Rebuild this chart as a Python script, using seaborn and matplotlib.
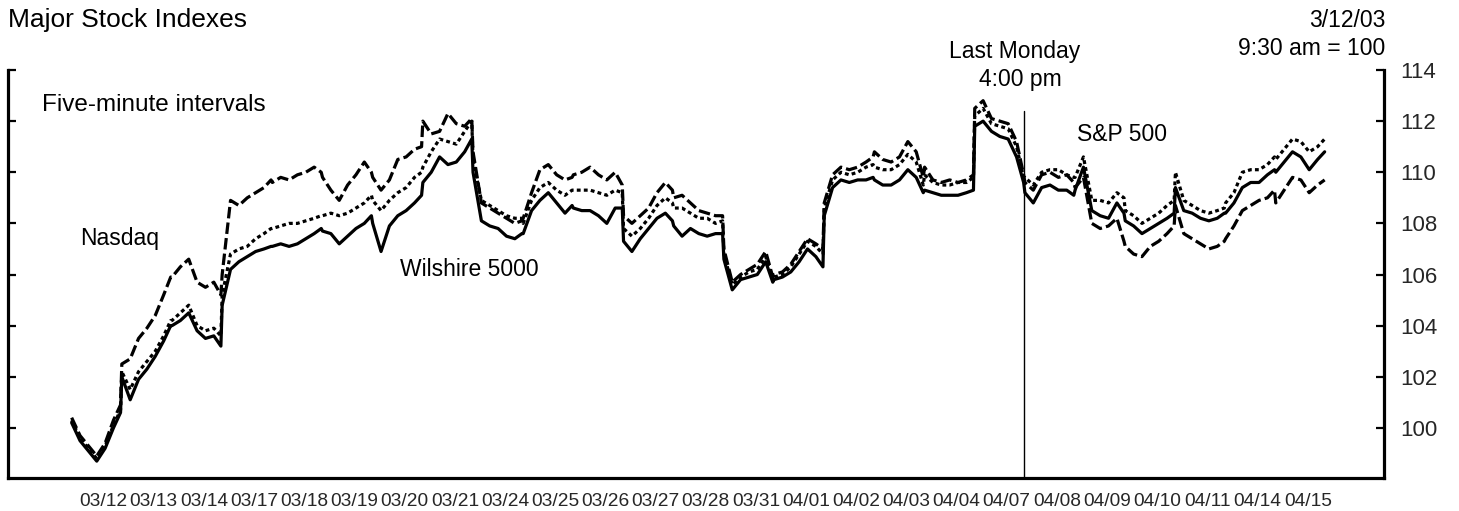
import numpy as np
import pandas as pd
import matplotlib
matplotlib.use("Agg")
import matplotlib.pyplot as plt
import seaborn as sns

# ---------------- data ----------------
day_labels = ["03/12", "03/13", "03/14", "03/17", "03/18", "03/19", "03/20", "03/21",
              "03/24", "03/25", "03/26", "03/27", "03/28", "03/31", "04/01", "04/02",
              "04/03", "04/04", "04/07", "04/08", "04/09", "04/10", "04/11", "04/14", "04/15"]
intraday_times = ["09:35", "10:40", "11:45", "12:50", "13:55", "15:00", "15:55"]

nasdaq = [
    100.4, 99.7, 99.3, 98.9, 99.4, 100.3, 100.9,
    102.5, 102.7, 103.5, 103.9, 104.4, 105.2, 105.9,
    105.9, 106.3, 106.6, 105.7, 105.5, 105.7, 105.2,
    106.0, 108.9, 108.7, 109.0, 109.2, 109.4, 109.7,
    109.6, 109.8, 109.7, 109.9, 110.0, 110.2, 110.0,
    109.8, 109.3, 108.9, 109.5, 109.9, 110.4, 110.0,
    109.8, 109.3, 109.7, 110.5, 110.6, 110.9, 111.0,
    112.0, 111.5, 111.6, 112.3, 111.9, 111.8, 112.1,
    110.8, 108.8, 108.6, 108.4, 108.2, 108.0, 108.1,
    108.2, 109.2, 110.1, 110.3, 109.9, 109.7, 109.8,
    109.9, 110.0, 110.2, 109.9, 109.7, 110.0, 109.5,
    108.3, 108.0, 108.3, 108.6, 109.2, 109.6, 109.3,
    109.0, 109.1, 108.8, 108.5, 108.4, 108.3, 108.3,
    107.0, 105.7, 106.0, 106.2, 106.4, 106.9, 105.9,
    106.0, 106.1, 106.4, 106.9, 107.4, 107.2, 107.0,
    108.8, 109.9, 110.2, 110.1, 110.2, 110.4, 110.6,
    110.8, 110.5, 110.4, 110.6, 111.2, 110.8, 109.8,
    110.2, 109.7, 109.6, 109.7, 109.6, 109.7, 109.9,
    112.5, 112.8, 112.1, 112.0, 111.9, 111.2, 109.9,
    109.6, 109.3, 109.9, 110.0, 109.8, 109.9, 109.6,
    109.4, 109.8, 108.0, 107.8, 107.9, 108.2, 107.3,
    107.1, 106.8, 106.7, 107.1, 107.3, 107.6, 107.9,
    108.7, 107.6, 107.4, 107.2, 107.0, 107.1, 107.3,
    107.4, 107.9, 108.5, 108.7, 108.9, 109.0, 109.3,
    108.8, 109.3, 109.8, 109.7, 109.2, 109.5, 109.7,
]

sp500 = [
    100.3, 99.6, 99.2, 98.8, 99.3, 100.1, 100.7,
    102.2, 101.5, 102.2, 102.6, 103.0, 103.6, 104.2,
    104.2, 104.5, 104.8, 104.0, 103.8, 103.9, 103.6,
    105.2, 106.8, 107.0, 107.1, 107.4, 107.6, 107.8,
    107.8, 107.9, 108.0, 108.0, 108.1, 108.2, 108.3,
    108.3, 108.4, 108.3, 108.4, 108.6, 108.8, 109.1,
    108.9, 108.5, 108.9, 109.2, 109.4, 109.8, 110.0,
    110.2, 110.8, 111.3, 111.2, 111.1, 111.6, 112.0,
    110.5, 108.9, 108.7, 108.5, 108.3, 108.2, 108.2,
    108.0, 108.9, 109.4, 109.6, 109.3, 109.1, 109.3,
    109.3, 109.3, 109.3, 109.2, 109.1, 109.3, 109.2,
    107.8, 107.5, 107.8, 108.2, 108.7, 109.0, 108.8,
    108.6, 108.6, 108.4, 108.2, 108.2, 108.0, 108.1,
    106.8, 105.6, 105.9, 106.1, 106.2, 106.7, 105.8,
    105.9, 106.0, 106.3, 106.8, 107.3, 107.1, 106.8,
    108.6, 109.7, 110.0, 109.9, 110.0, 110.2, 110.3,
    110.2, 110.1, 110.1, 110.3, 110.7, 110.4, 109.5,
    109.9, 109.6, 109.5, 109.5, 109.6, 109.6, 109.8,
    112.2, 112.5, 111.9, 111.8, 111.7, 111.0, 109.8,
    109.8, 109.5, 110.0, 110.1, 110.1, 109.9, 109.8,
    109.8, 110.6, 108.9, 108.9, 108.8, 109.2, 109.0,
    108.5, 108.3, 108.0, 108.2, 108.4, 108.7, 108.9,
    110.0, 108.9, 108.7, 108.5, 108.4, 108.5, 108.6,
    108.8, 109.2, 110.0, 110.1, 110.1, 110.3, 110.6,
    110.5, 110.9, 111.3, 111.2, 110.8, 111.0, 111.3,
]

wilshire = [
    100.2, 99.5, 99.1, 98.7, 99.2, 100.0, 100.6,
    102.0, 101.1, 101.9, 102.3, 102.8, 103.4, 104.0,
    104.0, 104.2, 104.5, 103.8, 103.5, 103.6, 103.2,
    104.8, 106.2, 106.5, 106.7, 106.9, 107.0, 107.1,
    107.1, 107.2, 107.1, 107.2, 107.4, 107.6, 107.8,
    107.7, 107.6, 107.2, 107.5, 107.8, 108.0, 108.3,
    108.0, 106.9, 107.9, 108.3, 108.5, 108.8, 109.1,
    109.6, 110.0, 110.6, 110.3, 110.4, 110.8, 111.3,
    110.0, 108.1, 107.9, 107.8, 107.5, 107.4, 107.6,
    107.6, 108.5, 108.9, 109.2, 108.8, 108.4, 108.7,
    108.6, 108.5, 108.5, 108.3, 108.0, 108.6, 108.6,
    107.3, 106.9, 107.4, 107.8, 108.2, 108.4, 108.1,
    107.9, 107.5, 107.8, 107.6, 107.5, 107.6, 107.6,
    106.6, 105.4, 105.8, 105.9, 106.0, 106.5, 105.7,
    105.8, 105.9, 106.1, 106.5, 107.0, 106.7, 106.3,
    108.3, 109.4, 109.7, 109.6, 109.7, 109.7, 109.8,
    109.7, 109.5, 109.5, 109.7, 110.1, 109.8, 109.2,
    109.3, 109.2, 109.1, 109.1, 109.1, 109.2, 109.3,
    111.8, 112.0, 111.6, 111.4, 111.3, 110.6, 109.6,
    109.2, 108.8, 109.4, 109.5, 109.3, 109.3, 109.1,
    109.3, 110.2, 108.5, 108.3, 108.2, 108.8, 108.4,
    108.1, 107.9, 107.6, 107.8, 108.0, 108.2, 108.4,
    109.4, 108.5, 108.4, 108.2, 108.1, 108.2, 108.4,
    108.4, 108.8, 109.4, 109.6, 109.6, 109.9, 110.1,
    110.0, 110.4, 110.8, 110.6, 110.1, 110.5, 110.8,
]

y_ticks = [100, 102, 104, 106, 108, 110, 112, 114]

# ---------------- build long table ----------------
def session_fraction(hhmm):
    h, m = map(int, hhmm.split(":"))
    return (h * 60 + m - 570) / 390.0

fracs = [session_fraction(t) for t in intraday_times]
t_axis = [d + f for d in range(len(day_labels)) for f in fracs]

rows = []
for name, vals in [("Nasdaq", nasdaq), ("S&P 500", sp500), ("Wilshire 5000", wilshire)]:
    for t, v in zip(t_axis, vals):
        rows.append({"t": t, "value": v, "series": name})
df = pd.DataFrame(rows)

# ---------------- figure ----------------
sns.set_style("white")
plt.rcParams["font.family"] = ["Liberation Sans", "DejaVu Sans"]

W, H = 1459, 511
fig = plt.figure(figsize=(W / 100, H / 100), dpi=100)
ax = fig.add_axes([8 / W, (H - 478) / H, (1384 - 8) / W, (478 - 70) / H])

dash_map = {"Nasdaq": (3.6, 1.3), "S&P 500": (1.2, 1.0), "Wilshire 5000": ""}
sns.lineplot(data=df, x="t", y="value", style="series", dashes=dash_map,
             color="black", linewidth=2.3, legend=False, ax=ax,
             estimator=None, sort=False)

ax.set_xlim(-1.256, 26.17)
ax.set_ylim(98.04, 114.0)

# vertical marker at last Monday 4:00 pm (04/07 close)
ax.axvline(day_labels.index("04/07") + 0.985, ymin=0, ymax=(112.39 - 98.04) / (114 - 98.04),
           color="black", linewidth=1.0)

# x ticks: marks at day starts, labels offset within day
ax.set_xticks(np.arange(len(day_labels)))
ax.set_xticklabels([""] * len(day_labels))
ax.set_xticks(np.arange(len(day_labels)) + 0.65, minor=True)
ax.set_xticklabels(day_labels, minor=True)
ax.tick_params(axis="x", which="major", direction="in", length=6, width=1.6, color="black")
ax.tick_params(axis="x", which="minor", length=0, pad=11, labelsize=13.8)

ax.set_yticks(y_ticks)
ax.set_yticklabels([str(v) for v in y_ticks])
ax.tick_params(axis="y", which="both", left=True, right=True, labelleft=False,
               labelright=True, direction="in", length=6, width=1.6, pad=12,
               labelsize=16, color="black")

for s in ["left", "right", "bottom"]:
    ax.spines[s].set_visible(True)
    ax.spines[s].set_linewidth(2.3)
    ax.spines[s].set_color("black")
ax.spines["top"].set_visible(False)
ax.set_xlabel("")
ax.set_ylabel("")
ax.grid(False)

def ftext(x, y, s, ha="left", size=16.5):
    fig.text(x / W, 1 - y / H, s, ha=ha, va="baseline", fontsize=size, color="black")

ftext(8, 27, "Major Stock Indexes", size=19)
ftext(1385, 27, "3/12/03", ha="right")
ftext(1385, 55, "9:30 am = 100", ha="right")
ftext(1015, 58, "Last Monday", ha="center")
ftext(1020, 86, "4:00 pm", ha="center")
ftext(42, 111, "Five-minute intervals", size=17.5)
ftext(80, 245, "Nasdaq")
ftext(400, 276, "Wilshire 5000")
ftext(1077, 141, "S&P 500")

fig.savefig("out.png", dpi=100)
